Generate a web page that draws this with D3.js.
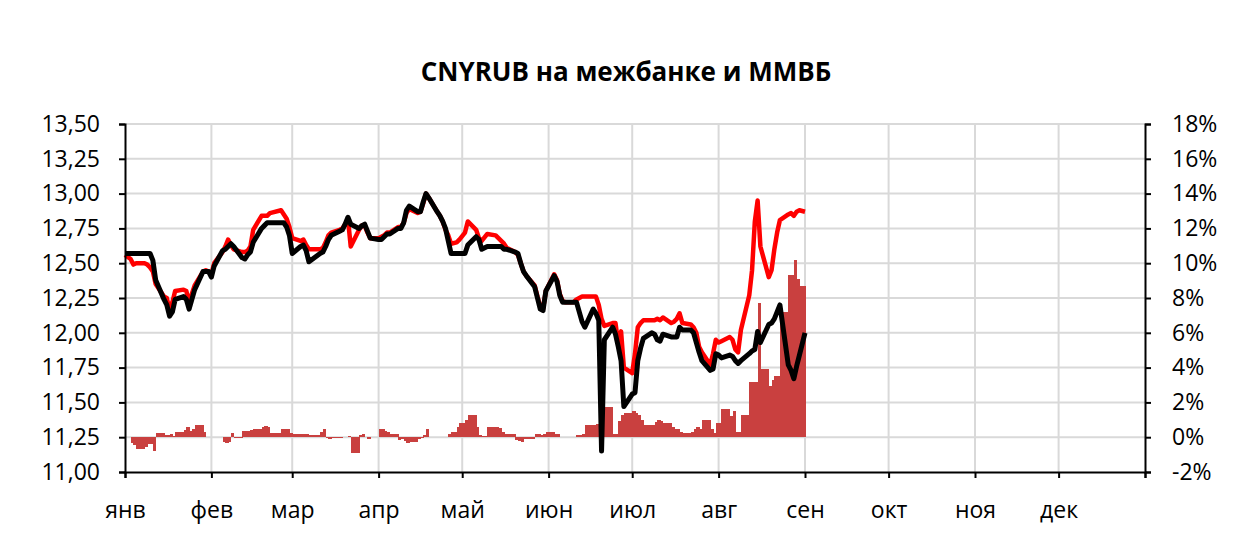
<!doctype html>
<html>
<head>
<meta charset="utf-8">
<title>CNYRUB</title>
<script src="https://d3js.org/d3.v7.min.js"></script>
<style>
  body { margin: 0; background: #fff; }
  text { font-family: "Open Sans", "Liberation Sans", sans-serif; fill: #000; }
</style>
</head>
<body>
<script>

// trading days
var dates = ['2024-01-01','2024-01-03','2024-01-04','2024-01-05','2024-01-08','2024-01-09','2024-01-10','2024-01-11','2024-01-12',
  '2024-01-15','2024-01-16','2024-01-17','2024-01-18','2024-01-19','2024-01-22','2024-01-23','2024-01-24','2024-01-25','2024-01-26',
  '2024-01-29','2024-01-30','2024-01-31','2024-02-01','2024-02-02','2024-02-05','2024-02-06','2024-02-07','2024-02-08','2024-02-09',
  '2024-02-12','2024-02-13','2024-02-14','2024-02-15','2024-02-16','2024-02-19','2024-02-20','2024-02-21','2024-02-22','2024-02-26',
  '2024-02-27','2024-02-28','2024-02-29','2024-03-01','2024-03-04','2024-03-05','2024-03-06','2024-03-07','2024-03-11','2024-03-12',
  '2024-03-13','2024-03-14','2024-03-15','2024-03-18','2024-03-19','2024-03-20','2024-03-21','2024-03-22','2024-03-25','2024-03-26',
  '2024-03-27','2024-03-28','2024-03-29','2024-04-01','2024-04-02','2024-04-03','2024-04-04','2024-04-05','2024-04-08','2024-04-09',
  '2024-04-10','2024-04-11','2024-04-12','2024-04-15','2024-04-16','2024-04-17','2024-04-18','2024-04-19','2024-04-22','2024-04-23',
  '2024-04-24','2024-04-25','2024-04-26','2024-04-27','2024-04-29','2024-04-30','2024-05-02','2024-05-03','2024-05-06','2024-05-07',
  '2024-05-08','2024-05-10','2024-05-13','2024-05-14','2024-05-15','2024-05-16','2024-05-17','2024-05-20','2024-05-21','2024-05-22',
  '2024-05-23','2024-05-24','2024-05-27','2024-05-28','2024-05-29','2024-05-30','2024-05-31','2024-06-03','2024-06-04','2024-06-05',
  '2024-06-06','2024-06-07','2024-06-10','2024-06-11','2024-06-13','2024-06-14','2024-06-17','2024-06-18','2024-06-19','2024-06-20',
  '2024-06-21','2024-06-24','2024-06-25','2024-06-26','2024-06-27','2024-06-28','2024-07-01','2024-07-02','2024-07-03','2024-07-04',
  '2024-07-05','2024-07-08','2024-07-09','2024-07-10','2024-07-11','2024-07-12','2024-07-15','2024-07-16','2024-07-17','2024-07-18',
  '2024-07-19','2024-07-22','2024-07-23','2024-07-24','2024-07-25','2024-07-26','2024-07-29','2024-07-30','2024-07-31','2024-08-01',
  '2024-08-02','2024-08-05','2024-08-06','2024-08-07','2024-08-08','2024-08-09','2024-08-12','2024-08-13','2024-08-14','2024-08-15',
  '2024-08-16','2024-08-19','2024-08-20','2024-08-21','2024-08-22','2024-08-23','2024-08-26','2024-08-27','2024-08-28','2024-08-29',
  '2024-08-30','2024-09-01'];

// interbank rate (red)
var interbank = [12.56,12.53,12.49,12.50,12.50,12.49,12.47,12.44,12.35,
  12.26,12.25,12.16,12.22,12.30,12.31,12.30,12.22,12.28,12.34,
  12.44,12.45,12.44,12.42,12.50,12.58,12.62,12.67,12.63,12.60,
  12.58,12.58,12.59,12.62,12.74,12.84,12.84,12.84,12.86,12.88,
  12.85,12.82,12.76,12.68,12.66,12.67,12.63,12.60,12.60,12.61,
  12.65,12.70,12.72,12.74,12.75,12.78,12.82,12.62,12.74,12.77,
  12.77,12.72,12.68,12.68,12.69,12.70,12.72,12.72,12.76,12.76,
  12.79,12.86,12.89,12.86,12.87,12.93,13.00,12.97,12.87,12.84,
  12.80,12.74,12.70,12.64,12.65,12.67,12.72,12.80,12.74,12.68,
  12.66,12.71,12.70,12.68,12.66,12.64,12.61,12.58,12.56,12.50,
  12.44,12.41,12.34,12.26,12.19,12.17,12.30,12.42,12.38,12.28,
  12.23,12.22,12.22,12.24,12.26,12.26,12.26,12.26,12.20,12.10,
  12.05,12.07,12.07,11.92,12.01,11.75,11.71,11.85,12.04,12.07,
  12.09,12.09,12.09,12.10,12.09,12.11,12.07,12.08,12.10,12.14,
  12.07,12.06,12.04,12.00,11.90,11.86,11.77,11.85,11.95,11.93,
  11.94,11.97,11.95,11.88,11.86,12.02,12.27,12.45,12.80,12.95,
  12.62,12.40,12.45,12.60,12.72,12.81,12.85,12.86,12.84,12.87,
  12.88,12.87];

// MOEX rate (black)
var moex = [12.57,12.57,12.57,12.57,12.57,12.57,12.57,12.52,12.38,
  12.24,12.20,12.12,12.15,12.24,12.26,12.24,12.17,12.24,12.31,
  12.44,12.44,12.44,12.40,12.48,12.59,12.60,12.62,12.64,12.62,
  12.54,12.53,12.56,12.58,12.65,12.75,12.77,12.79,12.79,12.79,
  12.79,12.76,12.70,12.57,12.62,12.63,12.59,12.51,12.57,12.58,
  12.62,12.67,12.70,12.73,12.74,12.78,12.83,12.78,12.75,12.77,
  12.78,12.73,12.68,12.67,12.67,12.69,12.71,12.71,12.75,12.75,
  12.79,12.88,12.91,12.87,12.87,12.94,13.00,12.97,12.87,12.84,
  12.80,12.75,12.66,12.57,12.57,12.57,12.57,12.63,12.69,12.67,
  12.60,12.62,12.62,12.62,12.62,12.60,12.60,12.58,12.57,12.50,
  12.44,12.41,12.33,12.25,12.17,12.16,12.30,12.41,12.37,12.27,
  12.22,12.22,12.22,12.22,12.08,12.04,12.17,12.14,12.09,11.15,
  11.95,12.04,11.99,11.90,11.80,11.47,11.56,11.57,11.80,11.89,
  11.96,12.00,11.99,11.95,11.94,11.99,11.97,11.97,11.97,12.04,
  12.02,12.02,12.00,11.93,11.86,11.80,11.73,11.74,11.85,11.84,
  11.82,11.84,11.83,11.80,11.78,11.80,11.85,11.87,11.88,12.01,
  11.93,12.06,12.07,12.10,12.15,12.20,11.77,11.73,11.67,11.76,
  11.84,12.00];

// spread, % (bars, right axis)
var spread = [0.0,-0.35,-0.45,-0.65,-0.55,-0.4,-0.4,-0.8,0.25,
  0.1,0.1,0.2,0.05,0.3,0.4,0.6,0.35,0.45,0.7,
  0.3,0.02,0.02,0.02,0.02,-0.3,-0.35,-0.3,0.25,-0.05,
  0.35,0.35,0.35,0.4,0.45,0.6,0.65,0.6,0.25,0.5,
  0.5,0.45,0.25,0.2,0.2,0.2,0.2,0.15,0.3,0.45,
  -0.05,-0.1,-0.05,-0.05,0.0,0.0,0.05,-0.9,0.15,0.2,
  0.0,-0.1,0.0,0.45,0.45,0.35,0.3,0.2,-0.15,-0.1,
  -0.2,-0.35,-0.3,-0.1,-0.05,0.1,0.5,0.02,0.02,0.02,
  0.0,0.02,0.2,0.3,0.6,0.8,1.0,1.25,0.6,0.15,
  0.05,0.6,0.6,0.55,0.3,0.2,0.2,-0.15,-0.2,-0.25,
  -0.1,-0.1,0.2,0.2,0.15,0.2,0.3,0.2,0.2,0.0,
  0.02,0.02,0.02,0.15,0.2,0.7,0.7,0.75,1.4,1.4,
  1.75,0.2,0.2,0.95,1.3,1.4,1.5,1.4,1.3,1.0,
  0.7,0.7,0.85,1.0,0.95,0.8,0.6,0.5,0.5,0.3,
  0.25,0.3,0.5,0.6,0.5,1.0,0.45,0.25,0.8,0.8,
  1.6,1.2,1.5,0.3,0.3,1.3,3.2,3.2,3.2,7.7,
  3.9,2.95,3.3,3.5,3.5,7.2,9.3,9.3,10.2,9.1,
  8.7,8.3];

var leftTicks = [11, 11.25, 11.5, 11.75, 12, 12.25, 12.5, 12.75, 13, 13.25, 13.5];
var rightTicks = [-2, 0, 2, 4, 6, 8, 10, 12, 14, 16, 18];
var monthLabels = ['янв','фев','мар','апр','май','июн','июл','авг','сен','окт','ноя','дек'];
var title = 'CNYRUB на межбанке и ММВБ';

var width = 1254, height = 548;
var plotLeft = 125, plotRight = 1145, plotTop = 124, plotBottom = 472;

var parse = d3.timeParse('%Y-%m-%d');
var days = dates.map(parse);
var monthStarts = d3.range(13).map(function (m) { return new Date(2024, m, 1); });

var svg = d3.select('body').append('svg')
  .attr('width', width)
  .attr('height', height);

var x = d3.scaleTime()
  .domain([new Date(2024, 0, 1), new Date(2025, 0, 1)])
  .range([plotLeft, plotRight]);
var y = d3.scaleLinear().domain([11, 13.5]).range([plotBottom, plotTop]);
var y2 = d3.scaleLinear().domain([-2, 18]).range([plotBottom, plotTop]);

// title
svg.append('text')
  .attr('x', 626).attr('y', 81)
  .attr('text-anchor', 'middle')
  .style('font-size', '26px')
  .style('font-weight', 'bold')
  .text(title);

// grid
var grid = svg.append('g').attr('stroke', '#d9d9d9').attr('stroke-width', 2);
grid.selectAll('line.h').data(leftTicks.slice(1)).enter().append('line')
  .attr('x1', plotLeft).attr('x2', plotRight)
  .attr('y1', function (d) { return y(d); })
  .attr('y2', function (d) { return y(d); });
grid.selectAll('line.v').data(monthStarts.slice(1, 12)).enter().append('line')
  .attr('y1', plotTop).attr('y2', plotBottom)
  .attr('x1', function (d) { return x(d); })
  .attr('x2', function (d) { return x(d); });

// spread bars, each from its day up to the next trading day
var bars = svg.append('g').attr('shape-rendering', 'crispEdges');
bars.selectAll('rect').data(d3.range(days.length - 1)).enter().append('rect')
  .attr('x', function (i) { return x(days[i]); })
  .attr('width', function (i) { return x(days[i + 1]) - x(days[i]) + 0.5; })
  .attr('y', function (i) { return Math.min(y2(spread[i]), y2(0)); })
  .attr('height', function (i) { return Math.abs(y2(spread[i]) - y2(0)); })
  .attr('fill', '#c9403f');

// lines
function drawLine(values, color, w) {
  var line = d3.line()
    .x(function (d, i) { return x(days[i]); })
    .y(function (d) { return y(d); });
  svg.append('path')
    .datum(values)
    .attr('d', line)
    .attr('fill', 'none')
    .attr('stroke', color)
    .attr('stroke-width', w)
    .attr('stroke-linejoin', 'round');
}
drawLine(interbank, '#ff0000', 4.5);
drawLine(moex, '#000000', 5);

// axes
var axisL = d3.axisLeft(y)
  .tickValues(leftTicks)
  .tickSize(6)
  .tickPadding(19)
  .tickFormat(function (d) { return d.toFixed(2).replace('.', ','); });
var gl = svg.append('g').attr('transform', 'translate(' + plotLeft + ',0)').call(axisL);

var axisR = d3.axisRight(y2)
  .tickValues(rightTicks)
  .tickSize(6)
  .tickPadding(21)
  .tickFormat(function (d) { return d + '%'; });
var gr = svg.append('g').attr('transform', 'translate(' + plotRight + ',0)').call(axisR);

var axisB = d3.axisBottom(x)
  .tickValues(monthStarts)
  .tickSize(6)
  .tickFormat(function (d, i) { return monthLabels[i] || ''; });
var gb = svg.append('g').attr('transform', 'translate(0,' + plotBottom + ')').call(axisB);
gb.selectAll('text').attr('y', 38).attr('dy', '0.35em');

[gl, gr, gb].forEach(function (g) {
  g.select('.domain').attr('stroke', '#000').attr('stroke-width', 2);
  g.selectAll('.tick line').attr('stroke', '#000').attr('stroke-width', 2);
  g.selectAll('text').style('font-size', '23px').style('font-family', '"Open Sans", sans-serif').attr('fill', '#000');
});

</script>
</body>
</html>
